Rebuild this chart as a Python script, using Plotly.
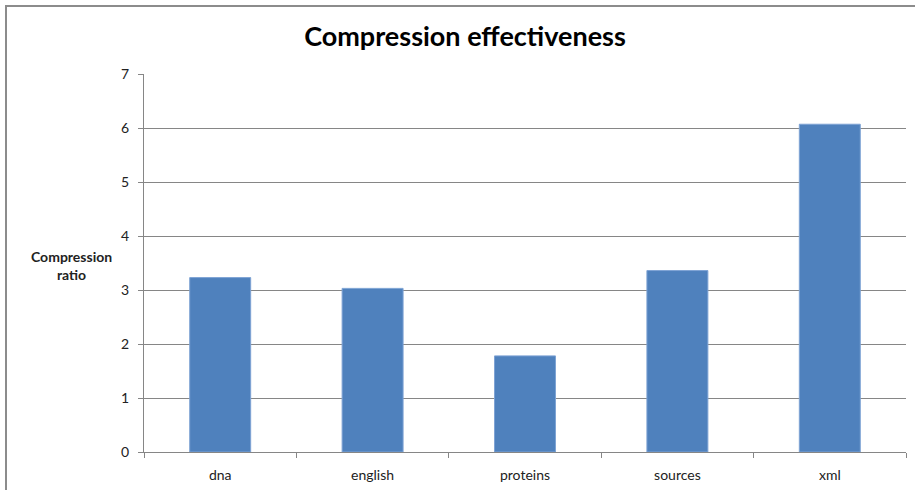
import plotly.graph_objects as go

# Data
categories = ["dna", "english", "proteins", "sources", "xml"]
ratios = [3.23, 3.03, 1.78, 3.36, 6.07]
y_ticks = [0, 1, 2, 3, 4, 5, 6, 7]

BAR_COLOR = "#4f81bd"
GRID_COLOR = "#868686"
FONT = "Lato, Open Sans, sans-serif"

fig = go.Figure(
    go.Bar(
        x=categories,
        y=ratios,
        marker=dict(color=BAR_COLOR, line=dict(color="#7ea3d4", width=1)),
        hoverinfo="x+y",
    )
)

W, H = 915, 490
L, R, T, B = 144, 9, 74, 38
pw, ph = W - L - R, H - T - B


def px_to_paper_x(px):
    return (px - L) / pw


def px_to_paper_y(py):
    return (H - B - py) / ph


fig.update_layout(
    width=W,
    height=H,
    margin=dict(l=L, r=R, t=T, b=B, autoexpand=False),
    paper_bgcolor="white",
    plot_bgcolor="white",
    bargap=0.6,
    showlegend=False,
    font=dict(family=FONT, size=14, color="#222222"),
    title=dict(
        text="<b>Compression effectiveness</b>",
        x=465 / W,
        xanchor="center",
        y=1 - 37 / H,
        yanchor="middle",
        font=dict(family=FONT, size=27, color="#000000"),
    ),
    xaxis=dict(
        type="category",
        automargin=False,
        showgrid=False,
        showline=True,
        linecolor=GRID_COLOR,
        linewidth=1,
        ticks="outside",
        tickson="boundaries",
        ticklen=5,
        tickcolor=GRID_COLOR,
        ticklabelstandoff=10,
        tickfont=dict(family=FONT, size=14, color="#222222"),
        fixedrange=True,
    ),
    yaxis=dict(
        range=[0, 7],
        automargin=False,
        tickvals=y_ticks,
        showgrid=True,
        gridcolor=GRID_COLOR,
        gridwidth=1,
        zeroline=False,
        showline=True,
        linecolor=GRID_COLOR,
        linewidth=1,
        ticks="outside",
        ticklen=5,
        tickcolor=GRID_COLOR,
        ticklabelstandoff=6,
        tickfont=dict(family=FONT, size=14, color="#222222"),
        fixedrange=True,
    ),
    annotations=[
        dict(
            text="<b>Compression<br>ratio</b>",
            xref="paper",
            yref="paper",
            x=px_to_paper_x(71),
            y=px_to_paper_y(265),
            xanchor="center",
            yanchor="middle",
            showarrow=False,
            align="center",
            font=dict(family=FONT, size=14, color="#222222"),
        )
    ],
    shapes=[
        # chart frame
        dict(
            type="rect",
            xref="paper",
            yref="paper",
            x0=px_to_paper_x(6),
            y0=px_to_paper_y(520),
            x1=px_to_paper_x(960),
            y1=px_to_paper_y(6),
            line=dict(color="#8c8c8c", width=2),
            fillcolor="rgba(0,0,0,0)",
            layer="below",
        )
    ],
)

fig.write_html("out.html")
